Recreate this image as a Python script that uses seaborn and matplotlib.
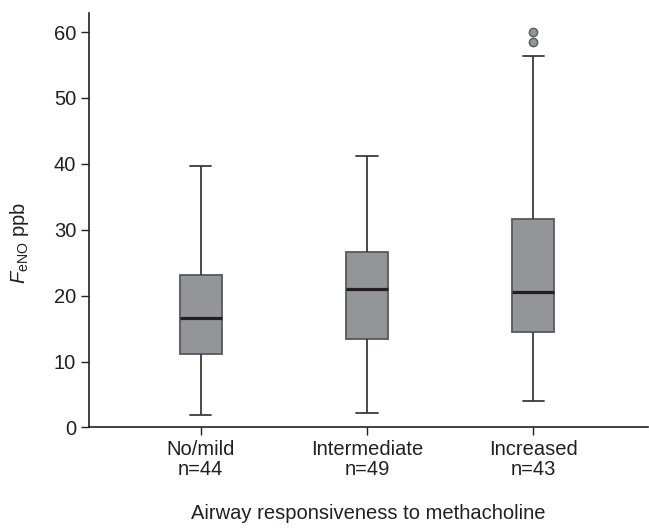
import matplotlib
matplotlib.use("Agg")
import matplotlib.pyplot as plt
import seaborn as sns
import pandas as pd

# Data (five-number summaries and outliers)
categories = ["No/mild\nn=44", "Intermediate\nn=49", "Increased\nn=43"]
whisker_low = [1.9, 2.2, 4.0]
q1 = [11.1, 13.4, 14.5]
median = [16.6, 21.0, 20.5]
q3 = [23.1, 26.6, 31.6]
whisker_high = [39.7, 41.2, 56.3]
outliers = [[], [], [58.5, 60.0]]

# Build a long-form table whose quartiles/whiskers reproduce the summaries
rows = []
for i, cat in enumerate(categories):
    vals = ([whisker_low[i]] + [q1[i]] * 3 + [median[i]] * 3 + [q3[i]] * 3
            + [whisker_high[i]] + outliers[i])
    for v in vals:
        rows.append({"group": cat, "value": v})
df = pd.DataFrame(rows)

sns.set_theme(style="ticks")
plt.rcParams["font.family"] = ["Liberation Sans", "DejaVu Sans"]
plt.rcParams["mathtext.fontset"] = "custom"
plt.rcParams["mathtext.rm"] = "Liberation Sans"
plt.rcParams["mathtext.it"] = "Liberation Sans:italic"

fig = plt.figure(figsize=(6.49, 5.30), dpi=100)
ax = fig.add_axes([0.1376, 0.1934, 0.8609, 0.7821])

dark = "#231f20"
edge = "#58595b"
fill = "#939598"

sns.boxplot(data=df, x="group", y="value", order=categories, ax=ax,
            width=0.253, color=fill, saturation=1, linewidth=1.3,
            linecolor=edge, fliersize=6,
            boxprops=dict(facecolor=fill, edgecolor=edge),
            medianprops=dict(color=dark, linewidth=2.3),
            whiskerprops=dict(color="#3a3a3a", linewidth=1.3),
            capprops=dict(color="#3a3a3a", linewidth=1.3),
            flierprops=dict(marker="o", markerfacecolor=fill,
                            markeredgecolor=edge, markersize=6))

ax.set_xlim(-0.670, 2.690)
ax.set_ylim(0, 62.9)
ax.set_yticks([0, 10, 20, 30, 40, 50, 60])
sns.despine(ax=ax)
for s in ["left", "bottom"]:
    ax.spines[s].set_color(dark)
    ax.spines[s].set_linewidth(1.2)
ax.tick_params(axis="both", colors=dark, labelcolor=dark, labelsize=14.5,
               length=6, width=1.0, direction="out")
ax.tick_params(axis="x", pad=3)
for t in ax.get_xticklabels():
    t.set_linespacing(1.05)

ax.set_xlabel("Airway responsiveness to methacholine", fontsize=14.5,
              color=dark, labelpad=18)
ax.set_ylabel(r"$\mathit{F}_{\mathrm{eNO}}$ ppb", fontsize=14.5, color=dark)
ax.yaxis.set_label_coords(-0.105, 0.445)

fig.savefig("out.png", dpi=100)
